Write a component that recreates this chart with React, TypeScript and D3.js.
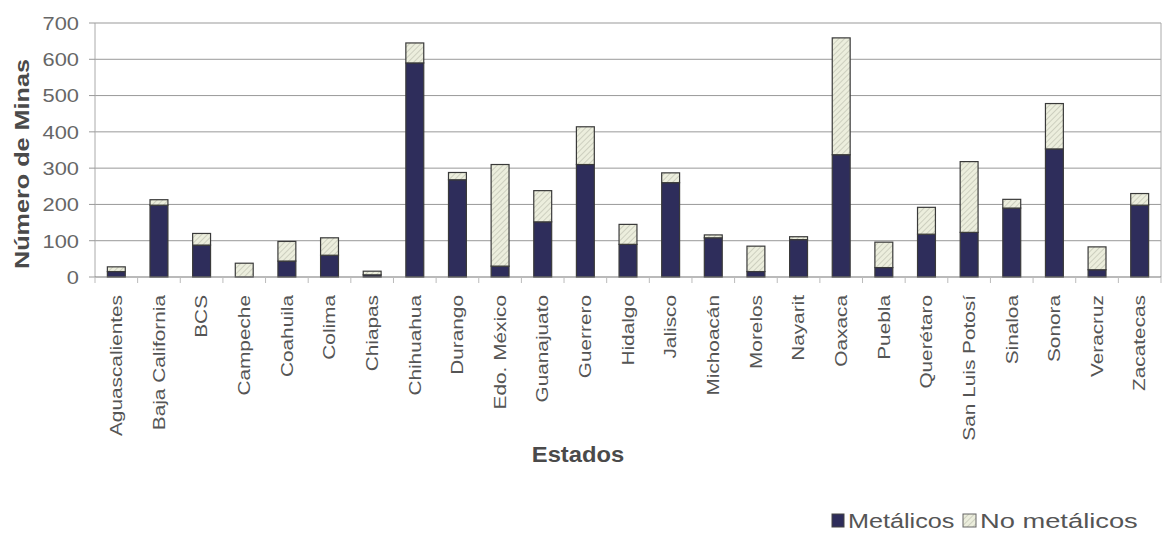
import React from 'react';
import * as d3 from 'd3';

const estados = [
  'Aguascalientes', 'Baja California', 'BCS', 'Campeche', 'Coahuila', 'Colima', 'Chiapas',
  'Chihuahua', 'Durango', 'Edo. México', 'Guanajuato', 'Guerrero', 'Hidalgo', 'Jalisco',
  'Michoacán', 'Morelos', 'Nayarit', 'Oaxaca', 'Puebla', 'Querétaro', 'San Luis Potosí',
  'Sinaloa', 'Sonora', 'Veracruz', 'Zacatecas',
];
const metalicos = [15, 198, 88, 0, 44, 60, 6, 590, 268, 30, 152, 310, 90, 260, 108, 15, 103, 337, 26, 118, 123, 190, 353, 20, 198];
const noMetalicos = [13, 15, 32, 38, 54, 48, 10, 55, 20, 280, 86, 104, 55, 27, 8, 70, 8, 322, 70, 74, 195, 24, 125, 63, 32];
const yTicks = [0, 100, 200, 300, 400, 500, 600, 700];
const seriesNames = ['Metálicos', 'No metálicos'];

const width = 1163;
const height = 535;
const left = 95, right = 1161, top = 23, bottom = 277;

const DARK = '#2e2d5b';
const LIGHT = '#eceedd';
const FONT = '"Liberation Sans", Arial, sans-serif';

export default function App() {
  const x = d3.scaleBand<string>()
    .domain(estados)
    .range([left, right])
    .paddingInner(0.58)
    .paddingOuter(0.29);
  const y = d3.scaleLinear().domain([0, 700]).range([bottom, top]);
  const step = x.step();

  const rows = estados.map((e, i) => ({ e, m: metalicos[i], n: noMetalicos[i] }));

  return (
    <svg width={width} height={height} style={{ position: 'absolute', left: 0, top: 0, background: '#fff' }}>
      <defs>
        <pattern id="hatch" width="4" height="4" patternUnits="userSpaceOnUse" patternTransform="rotate(45)">
          <rect width="4" height="4" fill={LIGHT} />
          <line x1="0" y1="0" x2="0" y2="4" stroke="#b9bbab" strokeWidth="1.2" />
        </pattern>
      </defs>

      {/* grid */}
      {yTicks.filter(t => t > 0).map(t => (
        <line key={t} x1={left} x2={right} y1={y(t)} y2={y(t)} stroke="#999" strokeWidth={1} />
      ))}
      <line x1={left} x2={left} y1={top} y2={bottom} stroke="#aaa" strokeWidth={1} />
      <line x1={right} x2={right} y1={top} y2={bottom} stroke="#aaa" strokeWidth={1} />

      {/* y ticks */}
      {yTicks.map(t => (
        <g key={t}>
          <line x1={left - 6} x2={left} y1={y(t)} y2={y(t)} stroke="#999" />
          <text
            transform={`translate(${left - 16},${y(t)}) scale(1.15,1)`}
            textAnchor="end" dy="0.36em" fontSize={19} fontFamily={FONT} fill="#666"
          >{t}</text>
        </g>
      ))}

      {/* bars */}
      {rows.map(r => (
        <g key={r.e}>
          {r.m > 0 && (
            <rect x={x(r.e)} width={x.bandwidth()} y={y(r.m)} height={y(0) - y(r.m)}
              fill={DARK} stroke="#3a3a3a" strokeWidth={1.2} />
          )}
          <rect x={x(r.e)} width={x.bandwidth()} y={y(r.m + r.n)} height={y(r.m) - y(r.m + r.n)}
            fill="url(#hatch)" stroke="#3a3a3a" strokeWidth={1.2} />
        </g>
      ))}

      {/* x axis */}
      <line x1={left} x2={right} y1={bottom} y2={bottom} stroke="#777" strokeWidth={1.2} />
      {d3.range(estados.length + 1).map(i => (
        <line key={i} x1={left + i * step} x2={left + i * step} y1={bottom} y2={bottom + 6} stroke="#bbb" />
      ))}
      {estados.map(e => (
        <text key={e}
          transform={`translate(${(x(e) as number) + x.bandwidth() / 2},${bottom + 18}) rotate(-90) scale(1.3,1)`}
          textAnchor="end" dy="0.36em" fontSize={16} fontFamily={FONT} fill="#555"
        >{e}</text>
      ))}

      {/* axis titles */}
      <text transform={`translate(578,462) scale(1.08,1)`}
        textAnchor="middle" fontSize={22} fontWeight="bold" fontFamily={FONT} fill="#4a4a4a">Estados</text>
      <text transform={`translate(29,164) rotate(-90) scale(1.2,1)`}
        textAnchor="middle" fontSize={21} fontWeight="bold" fontFamily={FONT} fill="#4a4a4a">Número de Minas</text>

      {/* legend */}
      <g fontFamily={FONT} fontSize={21} fill="#555">
        <rect x={832} y={514} width={12} height={13} fill={DARK} stroke="#444" />
        <text transform="translate(848,528) scale(1.2,1)">{seriesNames[0]}</text>
        <rect x={963} y={514} width={13} height={13} fill="url(#hatch)" stroke="#666" />
        <text transform="translate(980,528) scale(1.3,1)">{seriesNames[1]}</text>
      </g>
    </svg>
  );
}
